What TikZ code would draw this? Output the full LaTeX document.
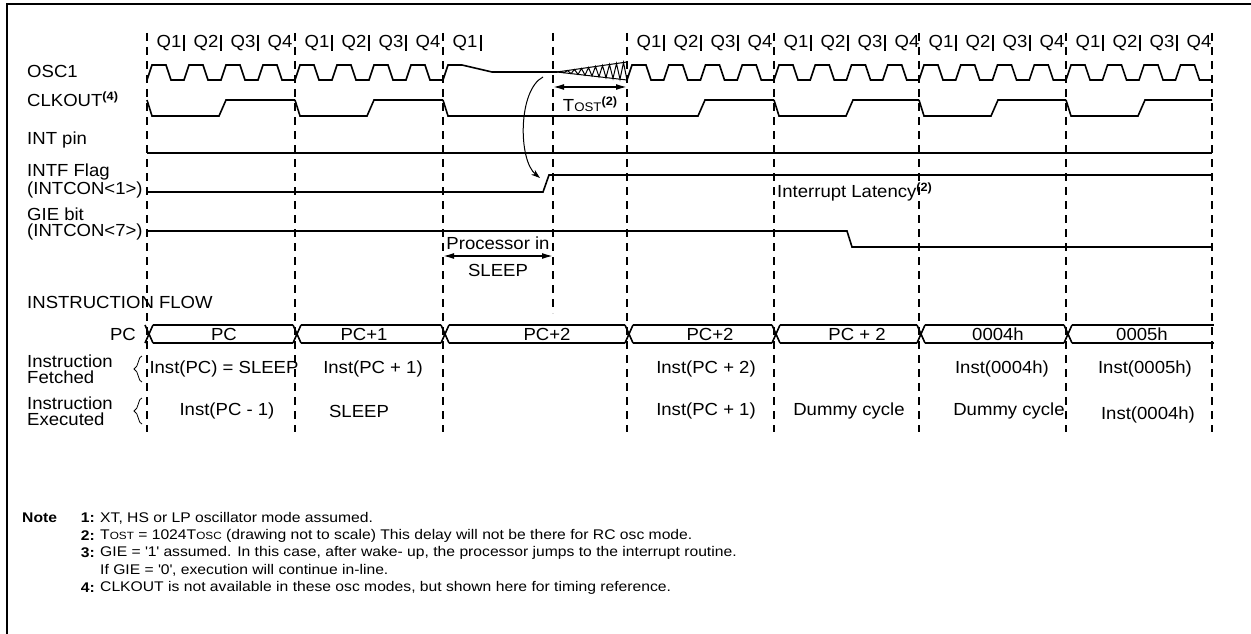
\documentclass[tikz,border=0pt]{standalone}
\usepackage{fontspec}
\setmainfont[FakeStretch=1.06]{Liberation Sans}
\newfontfamily\notefont[FakeStretch=1.12]{Liberation Sans}
\usetikzlibrary{arrows.meta}
\newcommand\mainsz{\fontsize{17.5}{15.5}\selectfont}
\newcommand\supsz{\fontsize{12}{12}\selectfont\bfseries}
\newcommand\smc{\fontsize{12.5}{12}\selectfont}
\newcommand\notesz{\notefont\fontsize{14}{14}\selectfont}
\newcommand\notesmc{\fontsize{10.5}{10}\selectfont}
\newcommand\supr[1]{\raisebox{5.5pt}{\supsz(#1)}}
\begin{document}
\begin{tikzpicture}[x=1pt,y=-1pt,
  lbl/.style={anchor=west,inner sep=0pt,align=left,font=\mainsz},
  txt/.style={inner sep=0pt,font=\mainsz},
  sig/.style={line width=1.6pt,line join=miter},
  fine/.style={line width=1pt},
  cycline/.style={line width=2pt,dash pattern=on 8pt off 6pt},
  qbar/.style={line width=1.8pt},
  dim/.style={line width=1.6pt,{Latex[length=11pt,width=6pt]}-{Latex[length=11pt,width=6pt]}},
  note/.style={anchor=west,inner sep=0pt,font=\notesz},
  notenum/.style={anchor=east,inner sep=0pt,font=\notesz\bfseries},
  brace/.style={line width=0.8pt}
]
\useasboundingbox (0,0) rectangle (1251,634);
% frame
\draw[line width=2pt] (1251,4) -- (7,4) -- (7,634);

% cycle boundaries
\foreach \x in {147,295,443,627,774,919,1066,1212}
  \draw[cycline] (\x,33) -- (\x,432);
\draw[cycline] (553,33) -- (553,313);

% Q labels
\foreach \x in {147,295,627,774,919,1066} {
  \foreach \k in {1,2,3,4}
    \node[txt] (q\x-\k) at ({\x+37*\k-15},43) {Q\k};
  \foreach \k in {1,2,3}
    \draw[qbar] ({\x+37*\k},35) -- ({\x+37*\k},51);
}
\node[txt] (qs1) at (465,43) {Q1};
\draw[qbar] (481,35) -- (481,51);

% OSC1
\foreach \a/\b in {147/295,295/443,627/774,774/919,919/1066,1066/1212} {
  \pgfmathsetmacro\p{(\b-\a)/4}
  \draw[sig] (\a,80) \foreach \k in {0,1,2,3} {
     -- ({\a+\k*\p},80) -- ({\a+\k*\p+5},65) -- ({\a+\k*\p+19},65)
     -- ({\a+\k*\p+24},80) -- ({\a+(\k+1)*\p},80) };
}
\draw[sig] (443,80) -- (448,65) -- (462,65) -- (492,72) -- (557,72);
\draw[fine] (557,72) -- (627,62);
\draw[fine] (557,72) -- (627,80);
\draw[fine] (557,72) \foreach \i in {1,3,...,19} {
   -- ({557+3.5*\i},{72-10*\i/20}) -- ({557+3.5*(\i+1)},{72+8*(\i+1)/20}) };

% CLKOUT
\foreach \a/\b in {147/295,295/443,774/919,919/1066,1066/1212}
  \draw[sig] (\a,100) -- (\a+5,116) -- (\a+72,116) -- (\a+79,100) -- (\b,100);
\draw[sig] (443,100) -- (448,116) -- (698,116) -- (705,100) -- (774,100);

% INT pin, INTF, GIE
\draw[sig] (147,153) -- (1212,153);
\draw[sig] (147,192) -- (543,192) -- (549,175) -- (1212,175);
\draw[sig] (147,231) -- (847,231) -- (852,247) -- (1212,247);

% labels
\node[lbl] (osc) at (27,71) {OSC1};
\node[lbl] (clk) at (27,99) {CLKOUT\supr{4}};
\node[lbl] (intp) at (27,140) {INT pin};
\node[lbl] (intf) at (27,181) {INTF Flag\\(INTCON<1>)};
\node[lbl] (gie) at (27,224) {GIE bit\\(INTCON<7>)};
\node[lbl] (iflow) at (27,302) {INSTRUCTION FLOW};
\node[lbl] (ifet) at (27,369) {Instruction\\Fetched};
\node[lbl] (iexe) at (27,411) {Instruction\\Executed};

% TOST
\coordinate (t1) at (553,87);
\coordinate (t2) at (627,87);
\draw[dim] (t1) -- (t2);
\node[txt] (tost) at (590,104) {T{\smc OST}\supr{2}};

% wake-up arrow
\coordinate (wa) at (543,77);
\coordinate (wb) at (540,178);
\draw[fine,-{Stealth[length=9pt,width=6pt]}] (wa) .. controls (518,90) and (518,160) .. (wb);

% processor in sleep
\node[txt] (proc) at (498,243) {Processor in};
\node[txt] (slp) at (498,270) {SLEEP};
\coordinate (s1) at (443,256);
\coordinate (s2) at (553,256);
\draw[dim] (s1) -- (s2);

% interrupt latency
\node[txt,anchor=west] (lat) at (777,192) {Interrupt Latency\supr{2}};

% PC bus
\node[txt,anchor=east] (pclbl) at (136,334) {PC};
\foreach \t in {147,295,443,627,774,919,1066} {
  \draw[sig] (\t-2,325) -- (\t+6,343);
  \draw[sig] (\t-2,343) -- (\t+6,325);
}
\foreach \a/\b in {147/295,295/443,443/627,627/774,774/919,919/1066} {
  \draw[sig] (\a+6,325) -- (\b-2,325);
  \draw[sig] (\a+6,343) -- (\b-2,343);
}
\draw[sig] (1072,325) -- (1214,325);
\draw[sig] (1072,343) -- (1214,343);
\node[txt] (b1) at (224,334) {PC};
\node[txt] (b2) at (364,334) {PC+1};
\node[txt] (b3) at (547,334) {PC+2};
\node[txt] (b4) at (710,334) {PC+2};
\node[txt] (b5) at (857,334) {PC + 2};
\node[txt] (b6) at (998,334) {0004h};
\node[txt] (b7) at (1142,334) {0005h};

% fetched / executed
\node[txt] (f1) at (224,369) {Inst(PC) = SLEEP};
\node[txt] (f2) at (373,369) {Inst(PC + 1)};
\node[txt] (f3) at (706,369) {Inst(PC + 2)};
\node[txt] (f4) at (1002,369) {Inst(0004h)};
\node[txt] (f5) at (1145,369) {Inst(0005h)};
\node[txt] (e1) at (227,411) {Inst(PC - 1)};
\node[txt] (e2) at (359,411) {SLEEP};
\node[txt] (e3) at (706,411) {Inst(PC + 1)};
\node[txt] (e4) at (849,411) {Dummy cycle};
\node[txt] (e5) at (1009,411) {Dummy cycle};
\node[txt] (e6) at (1148,415) {Inst(0004h)};

% braces
\foreach \c in {369,411}
  \draw[brace] (142,\c-13) .. controls (138,\c-13) and (139,\c-2) .. (134,\c)
               .. controls (139,\c+2) and (138,\c+13) .. (142,\c+13);

% notes
\node[anchor=west,inner sep=0pt,font=\notesz\bfseries] (note) at (22,518) {Note};
\node[notenum] (n1) at (95,518) {1:};
\node[note] (nt1) at (100,518) {XT, HS or LP oscillator mode assumed.};
\node[notenum] (n2) at (95,536) {2:};
\node[note] (nt2) at (100,536) {T{\notesmc OST} = 1024T{\notesmc OSC} (drawing not to scale) This delay will not be there for RC osc mode.};
\node[notenum] (n3) at (95,553) {3:};
\node[note] (nt3) at (100,553) {GIE = \textquotesingle 1\textquotesingle\ assumed. In this case, after wake- up, the processor jumps to the interrupt routine.};
\node[note] (nt3b) at (100,570) {If GIE = \textquotesingle 0\textquotesingle, execution will continue in-line.};
\node[notenum] (n4) at (95,588) {4:};
\node[note] (nt4) at (100,588) {CLKOUT is not available in these osc modes, but shown here for timing reference.};
\end{tikzpicture}
\end{document}
